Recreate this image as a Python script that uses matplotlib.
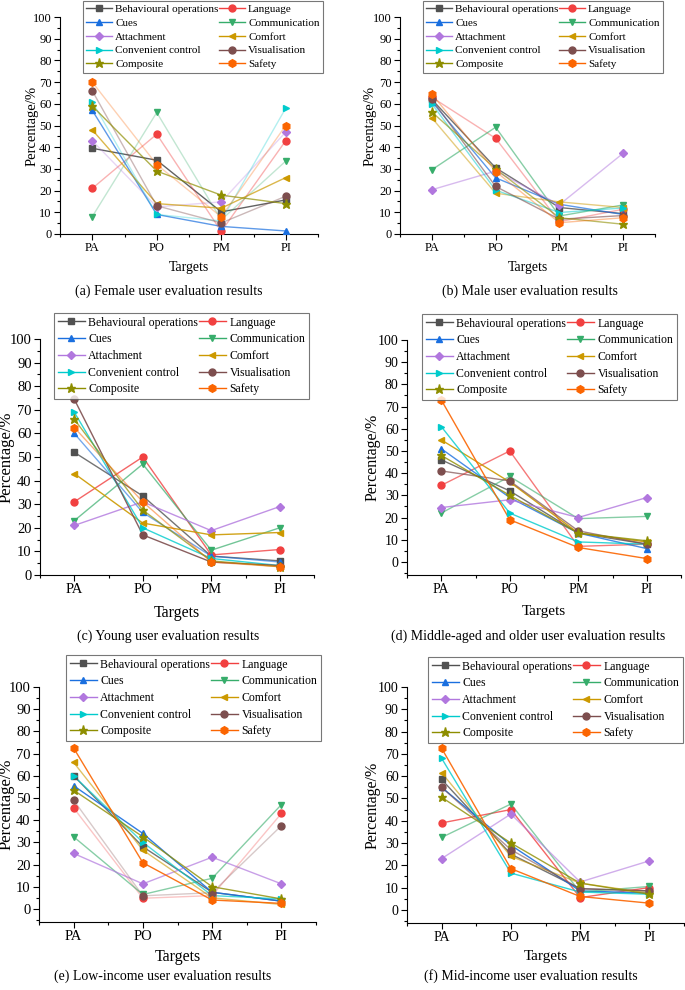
import numpy as np
import matplotlib
matplotlib.use("Agg")
import matplotlib.pyplot as plt
from matplotlib.ticker import MultipleLocator

plt.rcParams['font.family'] = ['Liberation Serif', 'DejaVu Serif']

targets = ['PA', 'PO', 'PM', 'PI']
series = ['Behavioural operations', 'Language', 'Cues', 'Communication',
          'Attachment', 'Comfort', 'Convenient control', 'Visualisation',
          'Composite', 'Safety']

# values per panel, one row per series, columns PA, PO, PM, PI
female = [[39.5, 34, 10.2, 15.7],
          [21, 46, 1.2, 43],
          [57, 9, 3.5, 1.4],
          [8, 56, 6.5, 33.6],
          [43, 12.5, 14.8, 47],
          [48, 14, 11.9, 26],
          [61, 9, 6, 58],
          [66, 13, 5.1, 17.4],
          [59, 29, 17.9, 14],
          [70, 32, 7.9, 50]]
male = [[62, 30.5, 12.2, 9.4],
        [63, 44.1, 5.7, 11.4],
        [61, 25.9, 13.7, 9],
        [29.6, 49.2, 8.3, 13.4],
        [20.4, 29, 13.5, 37.2],
        [53.5, 18.8, 14.8, 12.2],
        [60, 20.2, 9.9, 12],
        [62, 21.9, 6.8, 8.5],
        [56.2, 30, 7.5, 4.5],
        [64.4, 28.8, 5.2, 7.5]]
young = [[52, 33.5, 8, 6],
         [31, 50, 8.5, 10.8],
         [60, 26.5, 8, 5.5],
         [23, 47, 10.5, 20],
         [21, 31, 18.8, 29],
         [43, 22, 17, 18],
         [69, 20, 7, 4],
         [74.5, 17, 5.5, 4],
         [66, 27.5, 6, 3.5],
         [62.5, 31, 5.5, 3.5]]
older = [[46, 32, 13, 8],
         [34.5, 50, 7, 8],
         [51, 29, 13, 6],
         [22, 38.5, 19.5, 20.5],
         [24.5, 28, 20, 29],
         [55, 36, 13, 9],
         [61, 22, 9, 8],
         [41, 36.5, 14, 8],
         [48, 30, 13, 9.5],
         [73, 19, 6.5, 1.5]]
low_income = [[60, 28, 7.5, 3.5],
              [45.5, 4.8, 6, 43],
              [55.5, 34, 7.5, 3.5],
              [32.5, 6.5, 13.8, 47],
              [25, 11.3, 23.3, 11.3],
              [66, 26.5, 5, 2],
              [60, 30, 6, 4.5],
              [49, 5.9, 7.3, 37.5],
              [53.5, 32.5, 10, 4.5],
              [72.5, 20.8, 4, 2.5]]
mid_income = [[58.5, 25, 9.5, 8.5],
              [39, 45, 5.5, 10],
              [55, 29, 8.5, 7.5],
              [32.5, 47.5, 8, 10.5],
              [23, 43, 12.5, 22],
              [61.5, 24, 12, 7.5],
              [68, 16.5, 8, 7],
              [55, 27, 9.5, 8.5],
              [50.5, 30, 12, 7],
              [72.5, 18.5, 6, 3]]

captions = ['(a) Female user evaluation results',
            '(b) Male user evaluation results',
            '(c) Young user evaluation results',
            '(d) Middle-aged and older user evaluation results',
            '(e) Low-income user evaluation results',
            '(f) Mid-income user evaluation results']

colors = ['#515151', '#F14040', '#1A6FDF', '#37AD6B', '#B177DE',
          '#CC9900', '#00CBCC', '#7D4E4E', '#8E8E00', '#FB6501']
markers = ['s', 'o', '^', 'v', 'D', '<', '>', 'o', '*', 'h']
msizes = [4.2, 5, 5, 5, 4, 5, 5, 5, 6.5, 5.5]

# line transparency per panel (the original lines fade differently)
alphas = [[0.9, 0.4, 0.7, 0.3, 0.3, 0.7, 0.3, 0.4, 0.7, 0.3],
          [0.8, 0.4, 0.7, 0.6, 0.5, 0.5, 0.5, 0.6, 0.6, 0.4],
          [0.8, 0.8, 0.6, 0.7, 0.8, 0.9, 0.8, 0.9, 0.7, 0.5],
          [0.8, 0.7, 0.8, 0.6, 0.8, 0.9, 0.8, 0.7, 0.8, 0.9],
          [0.8, 0.3, 0.9, 0.6, 0.7, 0.6, 0.7, 0.3, 0.8, 0.9],
          [0.8, 0.8, 0.9, 0.6, 0.6, 0.6, 0.8, 0.6, 0.8, 0.9]]

W, H = 685, 990
# axes box in pixels (left, right, top, bottom), ylim bottom, legend corner,
# caption centre, legend font, tick font, y-label x, legend row spacing, xlabel pad
layout = [
    ((60, 318, 17, 234), 0, (83, 1), (169, 291), 8, 9, 32, 0.36, 5),
    ((400, 655, 17, 234), 0, (423, 1), (530, 291), 8, 9, 370, 0.36, 5),
    ((40, 314, 339, 575), 0, (54, 313), (168, 636), 8.5, 10.5, 7, 0.4, 6),
    ((407, 681, 340, 575), -5.9, (422, 314), (528, 636), 8.5, 10, 373, 0.4, 6),
    ((39, 316, 687, 922), -5.9, (66, 655), (163, 976), 8.5, 10.5, 7, 0.4, 4),
    ((407, 684, 687, 923), -5.9, (428, 657), (531, 976), 8.5, 10, 373, 0.4, 4),
]

panels = [female, male, young, older, low_income, mid_income]

fig = plt.figure(figsize=(W / 100, H / 100), dpi=100)
x = np.arange(1, len(targets) + 1)

for k, data in enumerate(panels):
    (l, r, t, b), ylo, leg, cap, lfs, tfs, ylx, lsp, xpad = layout[k]
    ax = fig.add_axes([l / W, 1 - b / H, (r - l) / W, (b - t) / H])
    handles = []
    for i, name in enumerate(series):
        col = colors[i]
        ax.plot(x, data[i], '-', color=col, lw=1.0, alpha=alphas[k][i], zorder=2)
        ax.plot(x, data[i], linestyle='none', marker=markers[i], ms=msizes[i],
                color=col, mec=col, zorder=3)
        h, = ax.plot([], [], '-', color=col, lw=1.0, marker=markers[i],
                     ms=msizes[i], mec=col)
        handles.append(h)
    ax.set_xlim(0.5, 4.5)
    ax.set_ylim(ylo, 100)
    ax.set_xticks(x)
    ax.set_xticklabels(targets)
    ax.xaxis.set_minor_locator(MultipleLocator(0.5))
    ax.set_yticks(np.arange(0, 101, 10))
    ax.yaxis.set_minor_locator(MultipleLocator(5))
    ax.tick_params(which='both', direction='out', labelsize=tfs)
    ax.tick_params(which='major', length=4, width=0.8, pad=2)
    ax.tick_params(which='minor', length=2.5, width=0.8)
    for s in ['top', 'right']:
        ax.spines[s].set_visible(False)
    ax.set_xlabel('Targets', fontsize=tfs + 1, labelpad=xpad)
    ax.set_ylabel('Percentage/%', fontsize=tfs + 1.5)
    ax.yaxis.set_label_coords((ylx - l) / (r - l), 0.5)
    ax.yaxis.label.set_va('center')
    order = handles[0::2] + handles[1::2]
    labels = series[0::2] + series[1::2]
    lg = fig.legend(order, labels, loc='upper left', ncol=2,
                    bbox_to_anchor=(leg[0] / W, 1 - leg[1] / H),
                    fontsize=lfs, frameon=True, fancybox=False,
                    edgecolor='#555555', borderpad=0.3, labelspacing=lsp,
                    columnspacing=0.05, handlelength=2.3, handletextpad=0.3,
                    borderaxespad=0)
    lg.get_frame().set_linewidth(0.8)
    fig.text(cap[0] / W, 1 - cap[1] / H, captions[k], ha='center', va='center',
             fontsize=10)

fig.savefig('out.png', dpi=100)
